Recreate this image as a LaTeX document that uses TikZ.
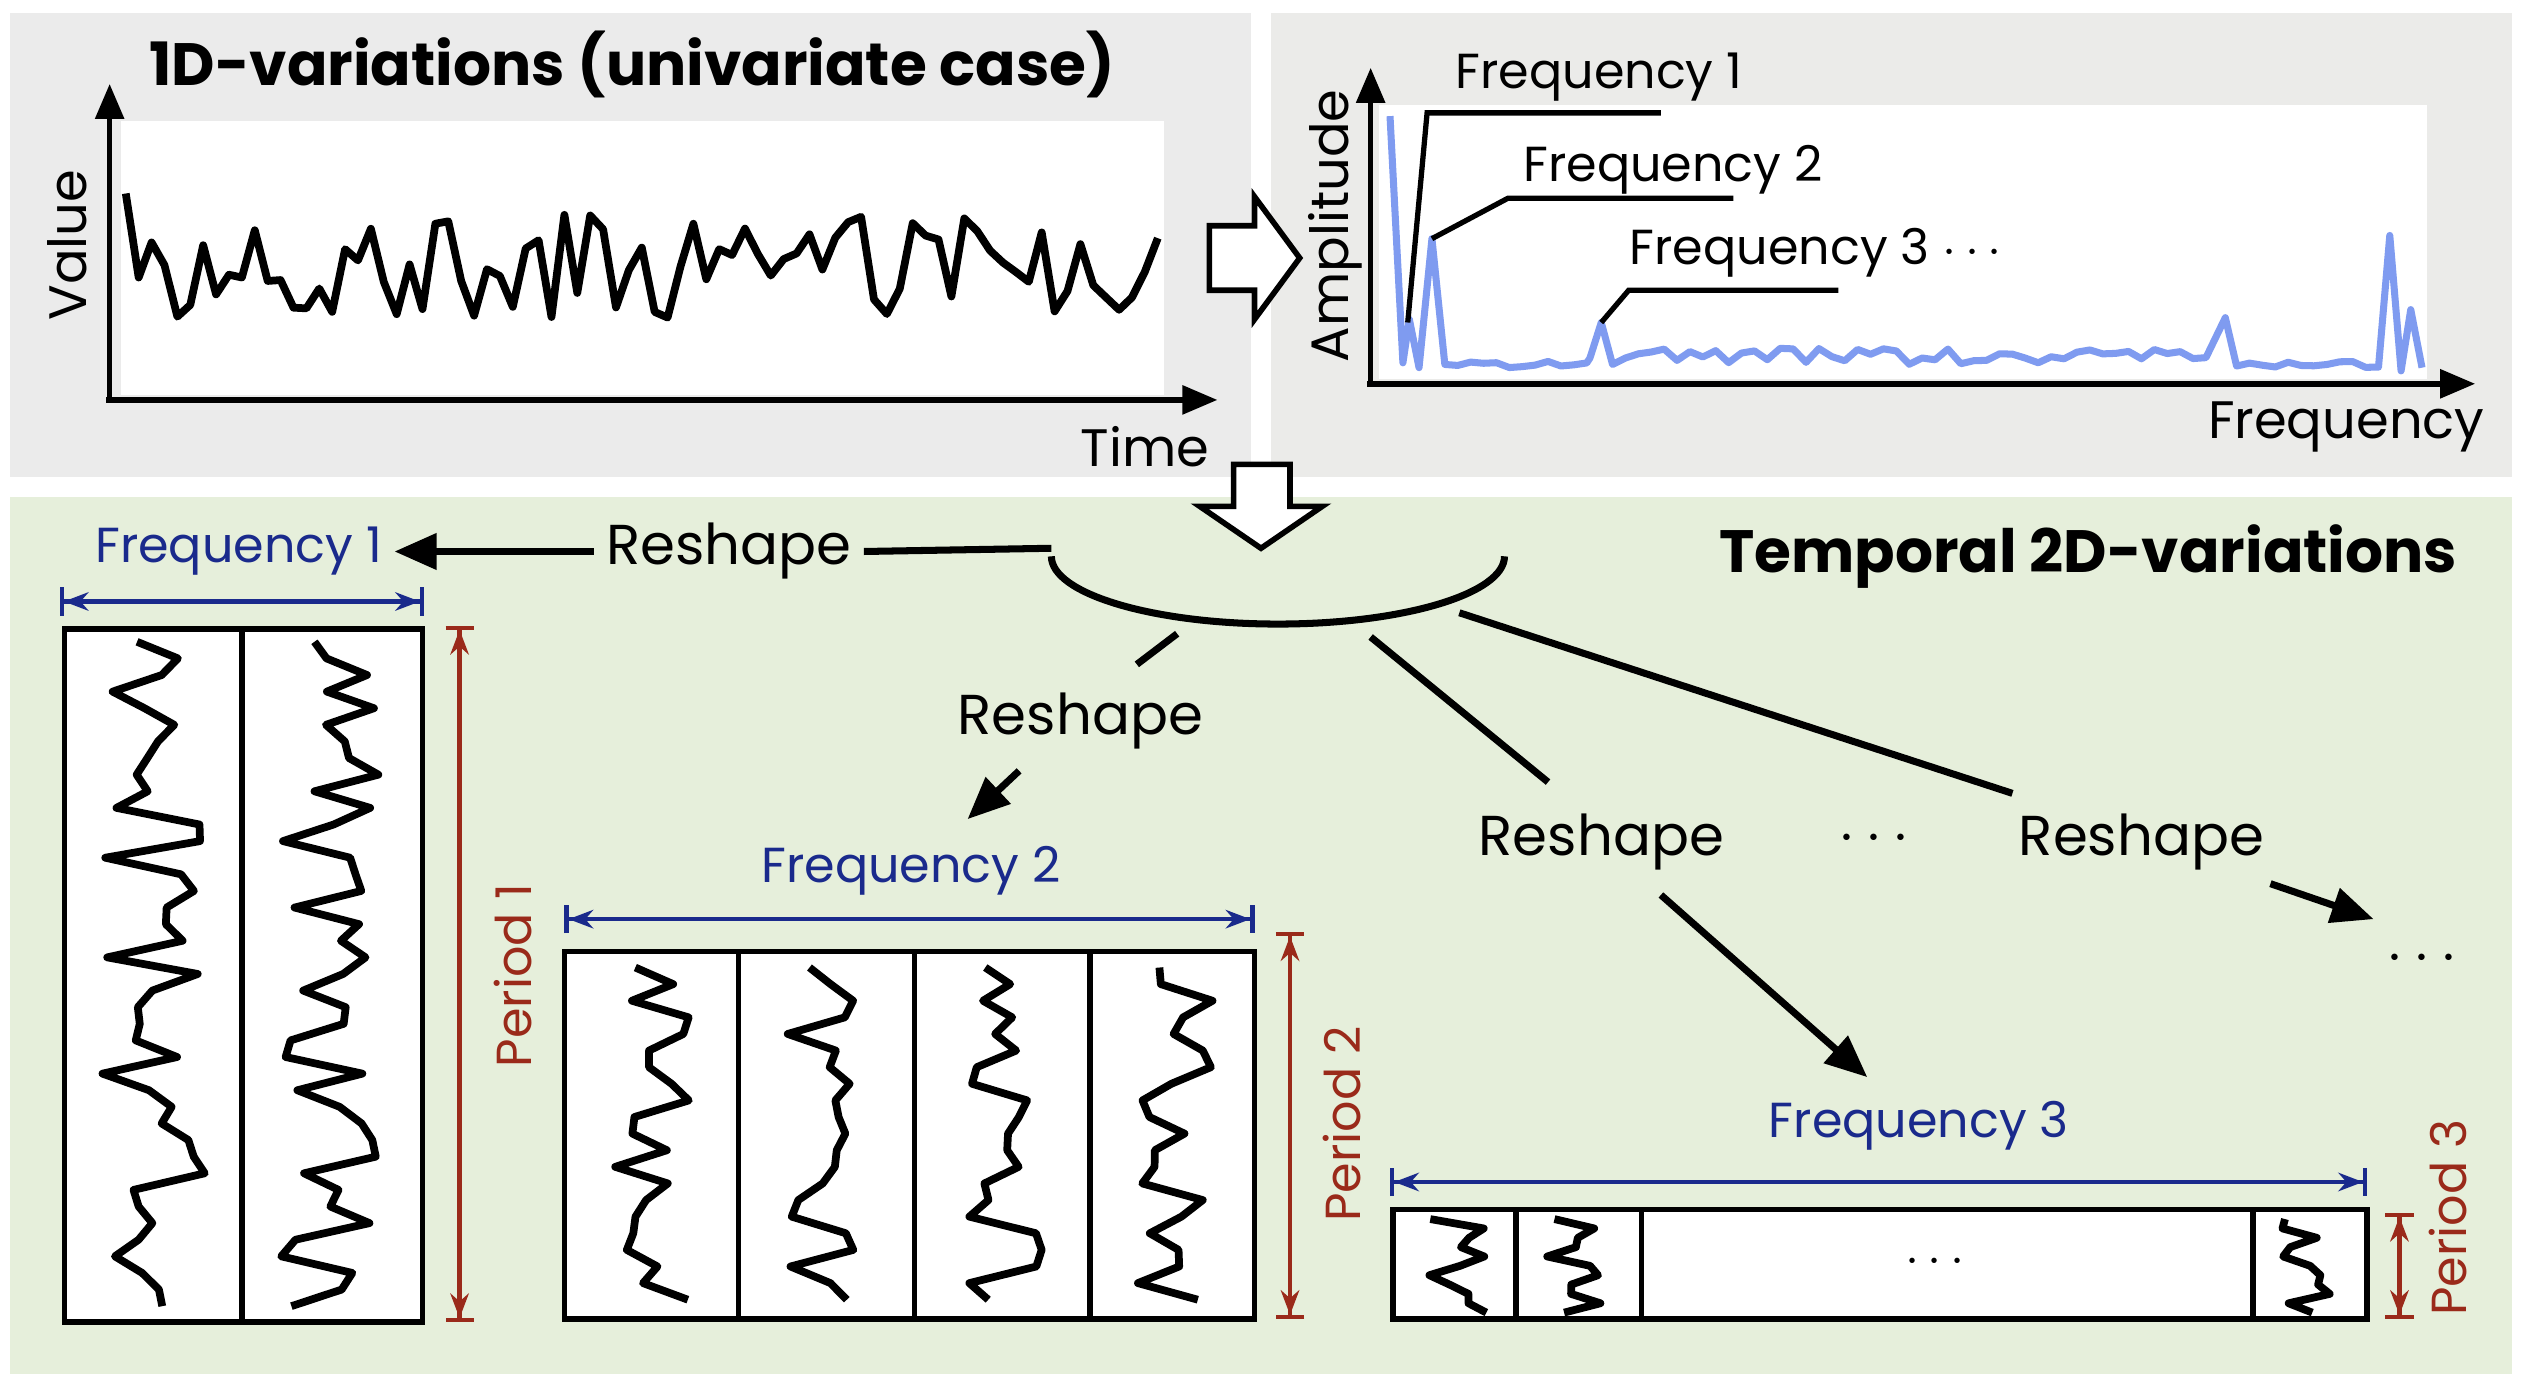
\documentclass[tikz,border=0pt]{standalone}
\usepackage{fontspec}
\setmainfont{Poppins}
\usetikzlibrary{arrows.meta}
\definecolor{panelgray}{HTML}{EBEBEB}
\definecolor{panelgreen}{HTML}{E6EFDB}
\definecolor{specblue}{HTML}{7F9BF0}
\definecolor{freqblue}{HTML}{1A2A8C}
\definecolor{perred}{HTML}{9A2A1A}
\tikzset{
  series/.style={line width=2.2pt, line join=round},
  axis/.style={line width=1.6pt, -{Triangle[length=10pt,width=8pt]}},
  reshape/.style={font=\fontsize{16}{19}\selectfont},
  freqlab/.style={font=\fontsize{14}{17}\selectfont, text=freqblue},
  perlab/.style={font=\fontsize{14}{17}\selectfont, text=perred, rotate=90},
  freqarr/.style={freqblue, line width=1.2pt, {Bar[width=8pt]Stealth[length=7pt]}-{Stealth[length=7pt]Bar[width=8pt]}},
  perarr/.style={perred, line width=1.2pt, {Bar[width=8pt]Stealth[length=7pt]}-{Stealth[length=7pt]Bar[width=8pt]}},
  conn/.style={line width=2pt},
  connarr/.style={line width=2pt, -{Triangle[length=12pt,width=10pt]}},
  hollow/.style={draw, line width=1.6pt, fill=white},
  box/.style={draw, line width=1.6pt, fill=white},
}
\begin{document}
\begin{tikzpicture}[x=0.016125cm, y=-0.016125cm]
\pgfmathsetseed{7}
\useasboundingbox (0,0) rectangle (1564,858);
% panels
\fill[panelgray] (6,8) rectangle (776,296);
\fill[panelgray!90!panelgreen] (788,8) rectangle (1558,296);
\fill[panelgreen] (6,308) rectangle (1558,852);

% time series
\fill[white] (75,75) rectangle (722,245);
\draw[axis] (68,248) -- (68,52);
\draw[axis] (66,248) -- (755,248);
\node[rotate=90, font=\fontsize{15}{18}\selectfont] (value) at (42,152) {Value};
\node[font=\fontsize{15}{18}\selectfont] (time) at (710,277) {Time};
\node[font=\bfseries\fontsize{17}{20}\selectfont] (title) at (392,40) {1D-variations (univariate case)};
\draw[series] (78,120) \foreach \i in {1,...,80} { -- ({78+\i*8},{165+32*rand}) };

% hollow right arrow
\draw[hollow] (750,140) -- (778,140) -- (778,122) -- (806,160) -- (778,198) -- (778,180) -- (750,180) -- cycle;

% spectrum
\fill[white] (855,65) rectangle (1505,235);
\draw[axis] (850,238) -- (850,42);
\draw[axis] (848,238) -- (1535,238);
\node[rotate=90, font=\fontsize{15}{18}\selectfont] (amp) at (828,140) {Amplitude};
\node[font=\fontsize{15}{18}\selectfont] (freq) at (1455,265) {Frequency};
\draw[specblue, line width=2pt, line join=round] (862,72) -- (870,225) -- (874,198) -- (880,228) -- (888,148) -- (896,226)
  \foreach \i in {1,...,11} { -- ({896+\i*8},{228-4*rnd}) } -- (986,222) -- (993,200) -- (1000,226)
  \foreach \i in {1,...,46} { -- ({1000+\i*8},{226-10*rnd}) } -- (1380,197) -- (1387,227)
  \foreach \i in {1,...,11} { -- ({1387+\i*8},{228-4*rnd}) } -- (1482,146) -- (1489,230) -- (1495,192) -- (1502,228);
\node[font=\fontsize{14}{17}\selectfont, anchor=west] (f1) at (895,48) {Frequency 1};
\node[font=\fontsize{14}{17}\selectfont, anchor=west] (f2) at (937,105) {Frequency 2};
\node[font=\fontsize{14}{17}\selectfont, anchor=west] (f3) at (1003,157) {Frequency 3 $\cdots$};
\draw[line width=1.5pt] (1030,70) -- (885,70) -- (873,200);
\draw[line width=1.5pt] (1075,123) -- (935,123) -- (888,148);
\draw[line width=1.5pt] (1140,180) -- (1010,180) -- (993,200);

% hollow down arrow
\draw[hollow] (765,288) -- (800,288) -- (800,314) -- (820,314) -- (782,340) -- (744,314) -- (765,314) -- cycle;

% ellipse hub
\draw[line width=2pt] (652,345) arc[start angle=180, end angle=0, x radius=140.5, y radius=42];
\node[font=\bfseries\fontsize{17}{20}\selectfont] (t2d) at (1295,345) {Temporal 2D-variations};

% branch 1
\node[reshape] (r1) at (452,342) {Reshape};
\node[freqlab] (fl1) at (148,342) {Frequency 1};
\draw[conn] (652,340) -- (r1.east);
\draw[connarr] (r1.west) -- (fl1.east);
\draw[freqarr] (37,373) -- (263,373);
\draw[box] (40,390) rectangle (262,820);
\draw[line width=1.6pt] (150,390) -- (150,820);
\draw[perarr] (285,388) -- (285,820);
\node[perlab] (p1) at (318,605) {Period 1};
\foreach \c in {95,205} {
  \draw[series] ({\c-10},398) \foreach \k in {1,...,40} { -- ({\c+32*rand},{398+\k*10.3}) };
}

% branch 2
\node[reshape] (r2) at (670,447) {Reshape};
\draw[conn] (730,393) -- (705,412);
\draw[connarr] (632,478) -- (600,508);
\node[freqlab] (fl2) at (565,540) {Frequency 2};
\draw[freqarr] (350,570) -- (778,570);
\draw[box] (350,590) rectangle (778,818);
\foreach \x in {458,567,676} \draw[line width=1.6pt] (\x,590) -- (\x,818);
\draw[perarr] (800,578) -- (800,818);
\node[perlab] (p2) at (832,697) {Period 2};
\foreach \c in {404,512,621,729} {
  \draw[series] ({\c-10},600) \foreach \k in {1,...,20} { -- ({\c+26*rand},{600+\k*10.3}) };
}

% branch 3
\node[reshape] (r3) at (993,522) {Reshape};
\draw[conn] (850,395) -- (960,485);
\draw[connarr] (1030,555) -- (1158,668);
\node[font=\fontsize{16}{19}\selectfont] (dots1) at (1162,520) {$\cdots$};
\node[freqlab] (fl3) at (1190,698) {Frequency 3};
\draw[freqarr] (862,733) -- (1468,733);
\draw[box] (864,750) rectangle (1468,818);
\foreach \x in {940,1018,1397} \draw[line width=1.6pt] (\x,750) -- (\x,818);
\node[font=\fontsize{14}{17}\selectfont] (dots3) at (1200,783) {$\cdots$};
\draw[perarr] (1488,752) -- (1488,818);
\node[perlab] (p3) at (1518,755) {Period 3};
\foreach \c in {902,979,1432} {
  \draw[series] ({\c-15},756) \foreach \k in {1,...,10} { -- ({\c+20*rand},{756+\k*5.8}) };
}

% branch 4
\node[reshape] (r4) at (1328,522) {Reshape};
\draw[conn] (905,380) -- (1248,492);
\draw[connarr] (1408,548) -- (1472,570);
\node[font=\fontsize{16}{19}\selectfont] (dots2) at (1502,595) {$\cdots$};
\end{tikzpicture}
\end{document}
